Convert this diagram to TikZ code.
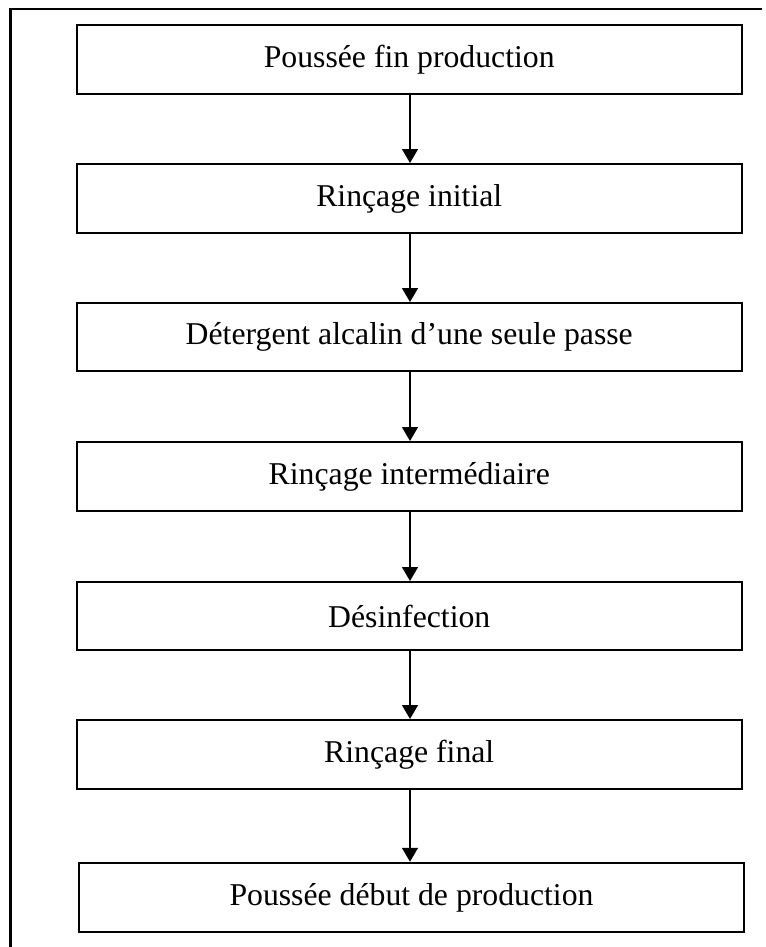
\documentclass[tikz,border=0pt]{standalone}
\usepackage{fontspec}
\setmainfont{Liberation Serif}
\usetikzlibrary{arrows.meta}
\begin{document}
\begin{tikzpicture}[x=0.75pt,y=-0.75pt,
  stepbox/.style={draw,line width=1.5pt,inner sep=0pt,font=\fontsize{23.8pt}{28pt}\selectfont},
  flow/.style={line width=1.1pt,-{Triangle[width=12pt,length=10.5pt]}},
  frame/.style={line width=1.6pt}]
\useasboundingbox (0,0) rectangle (766,947);
% table cell border (left and top)
\coordinate (fl) at (10.5,947);
\coordinate (ft) at (10.5,9.3);
\coordinate (fr) at (762,9.3);
\draw[frame] (fl) -- (ft) -- (fr);
% process steps
\node[stepbox,minimum width=664.5pt*0.75,minimum height=69pt*0.75] (s1) at (409.25,59.5) {Poussée fin production};
\node[stepbox,minimum width=664.5pt*0.75,minimum height=69pt*0.75] (s2) at (409.25,198.5) {Rinçage initial};
\node[stepbox,minimum width=664.5pt*0.75,minimum height=68pt*0.75] (s3) at (409.25,337) {Détergent alcalin d’une seule passe};
\node[stepbox,minimum width=664.5pt*0.75,minimum height=69pt*0.75] (s4) at (409.25,476.5) {Rinçage intermédiaire};
\node[stepbox,minimum width=664.5pt*0.75,minimum height=68pt*0.75] (s5) at (409.25,616) {Désinfection};
\node[stepbox,minimum width=664.5pt*0.75,minimum height=69pt*0.75] (s6) at (409.25,754.5) {Rinçage final};
\node[stepbox,minimum width=665pt*0.75,minimum height=69.5pt*0.75] (s7) at (411.5,897.5) {Poussée début de production};
% connectors
\foreach \a/\b in {s1/s2,s2/s3,s3/s4,s4/s5,s5/s6,s6/s7}
  \draw[flow] (\a.south -| 410,0) -- (\b.north -| 410,0);
\end{tikzpicture}
\end{document}
